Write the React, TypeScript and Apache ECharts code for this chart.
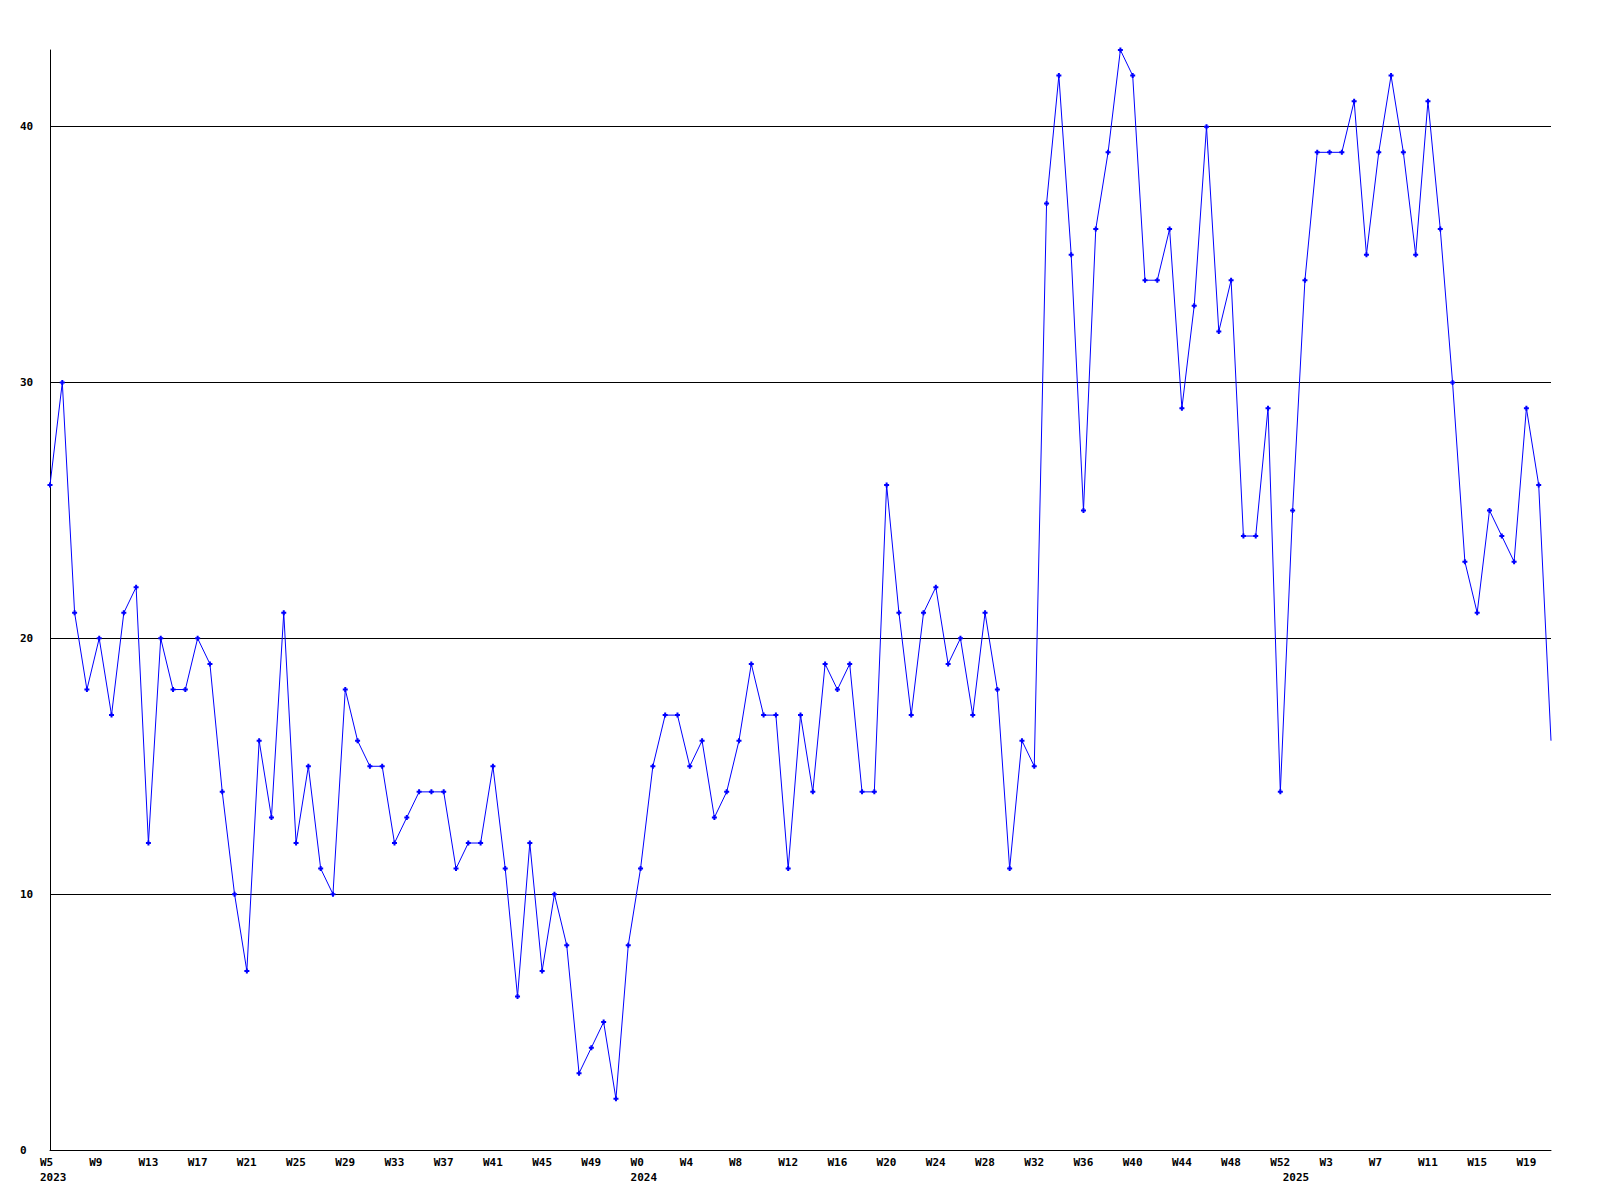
import React, { useEffect, useRef } from "react";
import * as echarts from "echarts";

// Week numbers shown on the category axis, per year
const weeks2023 = [5, 6, 7, 8, 9, 10, 11, 12, 13, 14, 15, 16, 17, 18, 19, 20, 21, 22, 23, 24, 25, 26, 27, 28, 29, 30, 31, 32, 33, 34, 35, 36, 37, 38, 39, 40, 41, 42, 43, 44, 45, 46, 47, 48, 49, 50, 51, 52];
const weeks2024 = [0, 1, 2, 3, 4, 5, 6, 7, 8, 9, 10, 11, 12, 13, 14, 15, 16, 17, 18, 19, 20, 21, 22, 23, 24, 25, 26, 27, 28, 29, 30, 31, 32, 33, 34, 35, 36, 37, 38, 39, 40, 41, 42, 43, 44, 45, 46, 47, 48, 49, 50, 51, 52];
const weeks2025 = [0, 1, 2, 3, 4, 5, 6, 7, 8, 9, 10, 11, 12, 13, 14, 15, 16, 17, 18, 19, 20, 21];
const years = ["2023", "2024", "2025"];

// Weekly values
const values = [
  26, 30, 21, 18, 20, 17, 21, 22, 12, 20,
  18, 18, 20, 19, 14, 10, 7, 16, 13, 21,
  12, 15, 11, 10, 18, 16, 15, 15, 12, 13,
  14, 14, 14, 11, 12, 12, 15, 11, 6, 12,
  7, 10, 8, 3, 4, 5, 2, 8, 11, 15,
  17, 17, 15, 16, 13, 14, 16, 19, 17, 17,
  11, 17, 14, 19, 18, 19, 14, 14, 26, 21,
  17, 21, 22, 19, 20, 17, 21, 18, 11, 16,
  15, 37, 42, 35, 25, 36, 39, 43, 42, 34,
  34, 36, 29, 33, 40, 32, 34, 24, 24, 29,
  14, 25, 34, 39, 39, 39, 41, 35, 39, 42,
  39, 35, 41, 36, 30, 23, 21, 25, 24, 23,
  29, 26, 16,
];

const yMin = 0;
const yMax = 43;
const yInterval = 10;

const weekGroups = [weeks2023, weeks2024, weeks2025];
const categories: string[] = [];
const yearStartIdx: number[] = [];
weekGroups.forEach((ws, gi) => {
  yearStartIdx.push(categories.length);
  ws.forEach((w) => categories.push(years[gi] + "|W" + w));
});

const FONT = "'DejaVu Sans Mono', 'Liberation Mono', monospace";

export default function App() {
  const ref = useRef<HTMLDivElement>(null);
  useEffect(() => {
    document.body.style.margin = "0";
    if (!ref.current) return;
    const chart = echarts.init(ref.current, null, { renderer: "svg" });
    const plusSymbol = "path://M1.5,0h2v1.5h1.5v2h-1.5v1.5h-2v-1.5h-1.5v-2h1.5z";
    chart.setOption({
      animation: false,
      backgroundColor: "#ffffff",
      grid: { left: 50, top: 50, right: 49, bottom: 50, containLabel: false },
      xAxis: {
        type: "category",
        data: categories,
        boundaryGap: false,
        axisLine: { show: true, lineStyle: { color: "#000000", width: 1 } },
        axisTick: { show: false },
        splitLine: { show: false },
        axisLabel: {
          interval: (index: number) => index % 4 === 0 || yearStartIdx.includes(index),
          formatter: (value: string, index: number) => {
            const [yr, wk] = value.split("|");
            const top = index % 4 === 0 ? wk : "";
            return yearStartIdx.includes(index) ? top + "\n" + yr : top;
          },
          align: "left",
          verticalAlign: "top",
          padding: [0, 0, 0, -10],
          margin: 5,
          lineHeight: 15,
          color: "#000000",
          fontFamily: FONT,
          fontWeight: "bold",
          fontSize: 11,
          hideOverlap: false,
        },
      },
      yAxis: {
        type: "value",
        min: yMin,
        max: yMax,
        interval: yInterval,
        axisLine: { show: true, lineStyle: { color: "#000000", width: 1 } },
        axisTick: { show: false },
        splitLine: {
          show: true,
          showMaxLine: false,
          showMinLine: false,
          lineStyle: { color: "#000000", width: 1 },
        },
        axisLabel: {
          showMaxLabel: false,
          align: "left",
          margin: 30,
          color: "#000000",
          fontFamily: FONT,
          fontWeight: "bold",
          fontSize: 11,
        },
      },
      series: [
        {
          type: "line",
          data: values.map((v, i) =>
            i === values.length - 1 ? { value: v, symbol: "none" } : v
          ),
          symbol: plusSymbol,
          symbolSize: 5,
          showAllSymbol: true,
          clip: false,
          lineStyle: { color: "#0000ff", width: 1 },
          itemStyle: { color: "#0000ff" },
          emphasis: { disabled: true },
        },
      ],
    });
    return () => chart.dispose();
  }, []);
  return <div ref={ref} style={{ width: 1600, height: 1200 }} />;
}
